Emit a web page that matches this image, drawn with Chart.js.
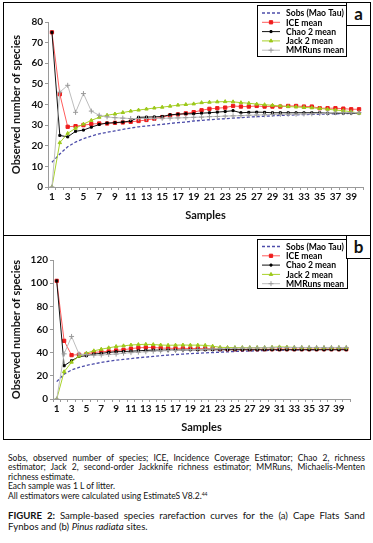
<!DOCTYPE html>
<html>
<head>
<meta charset="utf-8">
<script src="https://cdn.jsdelivr.net/npm/chart.js@4.4.1/dist/chart.umd.min.js"></script>
<style>
body { margin: 0; width: 373px; height: 543px; background: #fff; position: relative; overflow: hidden; font-family: Lato, "Open Sans", sans-serif; color: #111; }
.panel { position: absolute; left: 3px; width: 366px; border: 1px solid #000; }
#panelA { top: 2px; height: 232px; }
#panelB { top: 236px; height: 203px; border-top: none; }
.panel canvas { position: absolute; left: 0; top: 0; }
.tag { position: absolute; width: 23px; height: 22px; border: 1px solid #000; background: #fff; font: bold 17px Lato, sans-serif; text-align: center; line-height: 21px; }
.notes { position: absolute; left: 8px; top: 454px; width: 357px; font-size: 8.5px; line-height: 9.4px; text-align: justify; }
.notes p { margin: 0; }
.notes sup { font-size: 5px; vertical-align: 3px; line-height: 0; }
.fig { position: absolute; left: 8px; top: 511px; width: 357px; font-size: 9.6px; line-height: 10.8px; text-align: justify; }
</style>
</head>
<body>
<div class="panel" id="panelA"><canvas id="chartA" width="366" height="232"></canvas></div>
<div class="panel" id="panelB"><canvas id="chartB" width="366" height="203"></canvas></div>
<div class="tag" style="left:346px; top:2px;">a</div>
<div class="tag" style="left:346px; top:235px;">b</div>
<div class="notes">
<p>Sobs, observed number of species; ICE, Incidence Coverage Estimator; Chao 2, richness estimator; Jack 2, second-order Jackknife richness estimator; MMRuns, Michaelis-Menten richness estimate.</p>
<p>Each sample was 1 L of litter.</p>
<p>All estimators were calculated using EstimateS V8.2.<sup>44</sup></p>
</div>
<div class="fig"><b>FIGURE 2:</b> Sample-based species rarefaction curves for the (a) Cape Flats Sand Fynbos and (b) <i>Pinus radiata</i> sites.</div>
<script>
const samples = ["1","2","3","4","5","6","7","8","9","10","11","12","13","14","15","16","17","18","19","20",
    "21","22","23","24","25","26","27","28","29","30","31","32","33","34","35","36","37","38","39","40"];
const seriesNames = ["Sobs (Mao Tau)", "ICE mean", "Chao 2 mean", "Jack 2 mean", "MMRuns mean"];

// (a) Cape Flats Sand Fynbos
const sobsA = [12, 16, 19.5, 21.8, 23.4, 24.7, 25.8, 26.5, 27.2, 27.9, 28.6, 29.2, 29.6, 30, 30.4, 30.8, 31.2, 31.5, 32, 32.3,
    32.6, 32.9, 33.1, 33.4, 33.6, 33.9, 34.1, 34.3, 34.5, 34.7, 34.8, 35, 35.1, 35.2, 35.3, 35.4, 35.5, 35.6, 35.7, 35.8];
const iceA = [75, 45, 29.2, 29.5, 30, 30.5, 30.8, 30.8, 31.1, 31.3, 31.6, 32, 32.5, 33.1, 33.9, 34.7, 35.2, 35.7, 36.3, 37.2,
    37.9, 38.2, 38.5, 39.3, 39, 39, 39.3, 39, 39, 39, 39.3, 39.3, 39, 39, 38.2, 38.2, 38.2, 38, 37.7, 37.7];
const chaoA = [75, 25, 24.3, 27, 27.6, 29, 30.3, 31, 31.2, 31.5, 32, 33.8, 33.9, 34, 34.2, 35, 35.3, 35.5, 35.5, 35.8,
    36, 36.3, 36.6, 37, 36, 36.2, 36.3, 36.2, 36, 36, 36, 36, 36, 36, 36, 35.8, 35.8, 35.8, 35.8, 35.8];
const jackA = [0, 21.5, 26, 28.5, 30.5, 32.3, 33.8, 34.8, 35.4, 36.1, 36.8, 37.3, 37.8, 38.3, 38.7, 39.2, 39.7, 40, 40.3, 40.9,
    41.1, 41.3, 41.4, 41.3, 40.9, 40.6, 40.2, 39.9, 39.6, 39.3, 39, 38.8, 38.6, 38.4, 38.1, 37.7, 37.3, 37, 36.5, 35.8];
const mmA = [0, 46, 49.3, 36.2, 45.3, 36.8, 34.8, 34, 33.6, 33.4, 33.2, 33.2, 33.2, 33.3, 33.3, 33.4, 33.5, 33.6, 33.8, 33.9,
    34.1, 34.2, 34.4, 34.5, 34.6, 34.8, 34.9, 35, 35.2, 35.2, 35.3, 35.3, 35.4, 35.5, 35.7, 35.8, 36, 36, 36, 36];

// (b) Pinus radiata
const sobsB = [15, 21.5, 25, 27.3, 29, 30.3, 31.6, 32.6, 33.5, 34.2, 34.9, 35.6, 36.2, 36.8, 37.4, 37.9, 38.4, 38.8, 39.2, 39.5,
    39.8, 40.1, 40.4, 40.7, 41, 41.2, 41.4, 41.6, 41.8, 42, 42.2, 42.3, 42.4, 42.5, 42.6, 42.7, 42.8, 42.9, 43, 43];
const iceB = [102, 50.2, 37.9, 38.3, 38.7, 40.2, 40.8, 41.1, 41.9, 42.5, 43.5, 44.2, 44.5, 44.5, 44, 43.8, 43.7, 43.7, 43.6, 43.6,
    43.6, 43.5, 43.1, 43, 43, 43, 43, 43, 43, 43, 43, 43, 43, 43, 43, 43, 43, 43, 43, 43];
const chaoB = [102, 28.7, 33, 36.7, 37.3, 38.8, 39.4, 40.2, 40.8, 41, 41.3, 41.6, 42, 42.2, 42.2, 42.2, 42.3, 42.3, 42.4, 42.4,
    42.5, 42.5, 42.5, 42.5, 42.5, 42.5, 42.5, 42.5, 42.5, 42.5, 42.5, 42.5, 42.5, 42.5, 42.5, 42.5, 42.5, 42.5, 42.5, 42.5];
const jackB = [0, 23.5, 31.8, 37, 39.6, 41.6, 43, 44.2, 45.3, 45.9, 46.6, 47, 47.2, 47, 46.6, 46.4, 46.5, 46.6, 46.5, 46.5,
    46.3, 45.6, 44.6, 44.5, 44.4, 44.4, 44.4, 44.4, 44.4, 44.6, 45, 44.8, 44.5, 44.4, 44.3, 44.3, 44.3, 44.3, 44.3, 44.3];
const mmB = [0, 39, 54, 38.8, 38.2, 37.8, 38, 38.4, 38.8, 39.5, 40, 40.4, 40.8, 41.2, 41.5, 41.8, 42, 42.3, 42.5, 42.8,
    43, 43.2, 43.4, 43.6, 43.8, 43.9, 44, 44.1, 44.2, 44.3, 44.4, 44.4, 44.5, 44.5, 44.5, 44.5, 44.5, 44.5, 44.5, 44.5];

const FONT = "Lato";

function makeDatasets(sobs, ice, chao, jack, mm) {
    return [
        { label: seriesNames[0], data: sobs, borderColor: "#4d4daa", borderDash: [3, 2], borderWidth: 1.3,
          pointRadius: 0, order: 5 },
        { label: seriesNames[1], data: ice, borderColor: "#ff5c5c", borderWidth: 1, pointStyle: "rect",
          pointRadius: 2.3, pointBackgroundColor: "#ee1c1c", pointBorderColor: "#ee1c1c", order: 4 },
        { label: seriesNames[2], data: chao, borderColor: "#111", borderWidth: 1, pointStyle: "rect",
          pointRadius: 1.4, pointBackgroundColor: "#000", pointBorderColor: "#000", order: 3 },
        { label: seriesNames[3], data: jack, borderColor: "#a8d22a", borderWidth: 1, pointStyle: "triangle",
          pointRadius: 2, pointBackgroundColor: "#9cc81a", pointBorderColor: "#9cc81a", order: 2 },
        { label: seriesNames[4], data: mm, borderColor: "#bdbdbd", borderWidth: 1, pointStyle: "cross",
          pointRadius: 2.5, pointBorderColor: "#9a9a9a", pointBorderWidth: 1, order: 1 }
    ];
}

// boxed legend drawn on the canvas, in series order
const boxLegend = {
    id: "boxLegend",
    afterDraw(chart, args, opts) {
        const ctx = chart.ctx;
        ctx.save();
        ctx.fillStyle = "#fff";
        ctx.fillRect(opts.x, opts.y, opts.w, opts.h);
        ctx.strokeStyle = "#000";
        ctx.lineWidth = 1;
        ctx.strokeRect(opts.x + 0.5, opts.y + 0.5, opts.w, opts.h);
        ctx.font = "bold 8.6px " + FONT;
        ctx.textBaseline = "middle";
        chart.data.datasets.forEach((ds, i) => {
            const cy = opts.y + opts.first + i * opts.rowH;
            const x0 = opts.x + 5, x1 = opts.x + 23;
            ctx.strokeStyle = ds.borderColor;
            ctx.lineWidth = ds.borderWidth;
            ctx.setLineDash(ds.borderDash || []);
            ctx.beginPath();
            ctx.moveTo(x0, cy);
            ctx.lineTo(x1, cy);
            ctx.stroke();
            ctx.setLineDash([]);
            if (ds.pointRadius > 0) {
                ctx.fillStyle = ds.pointBackgroundColor || ds.pointBorderColor;
                ctx.strokeStyle = ds.pointBorderColor;
                Chart.helpers.drawPoint(ctx, { pointStyle: ds.pointStyle, radius: ds.pointRadius, rotation: 0,
                    borderWidth: ds.pointBorderWidth || 1 }, (x0 + x1) / 2, cy);
            }
            ctx.fillStyle = "#000";
            ctx.fillText(ds.label, opts.x + 29, cy + 0.5);
        });
        ctx.restore();
    }
};

function makeChart(id, datasets, cfg) {
    return new Chart(document.getElementById(id), {
        type: "line",
        data: { labels: samples, datasets: datasets },
        plugins: [boxLegend],
        options: {
            responsive: false,
            animation: false,
            events: [],
            layout: { padding: cfg.padding },
            elements: { line: { tension: 0 } },
            plugins: {
                legend: { display: false },
                tooltip: { enabled: false },
                boxLegend: cfg.legend
            },
            scales: {
                x: {
                    type: "category",
                    offset: true,
                    grid: { offset: true, drawOnChartArea: false, tickLength: 3, color: "#9a9a9a" },
                    border: { color: "#9a9a9a" },
                    ticks: {
                        autoSkip: false, maxRotation: 0, minRotation: 0, padding: 1, color: "#111",
                        font: { family: FONT, weight: "bold", size: 10 },
                        callback: function (v, i) { return i % 2 === 0 ? this.getLabelForValue(v) : ""; }
                    },
                    title: { display: true, text: "Samples", color: "#111",
                        font: { family: FONT, weight: "bold", size: 11 }, padding: { top: 0, bottom: cfg.xTitlePad } },
                    afterFit: s => { s.height = cfg.xHeight; }
                },
                y: {
                    min: 0, max: cfg.yMax,
                    grid: { drawOnChartArea: false, tickLength: 3, color: "#9a9a9a" },
                    border: { color: "#9a9a9a" },
                    ticks: { stepSize: cfg.yStep, padding: 2, color: "#111",
                        font: { family: FONT, weight: "bold", size: 10 } },
                    title: { display: true, text: "Observed number of species", color: "#111",
                        font: { family: FONT, weight: "bold", size: 11 }, padding: { top: 6, bottom: 0 } },
                    afterFit: s => { s.width = cfg.yWidth; }
                }
            }
        }
    });
}

makeChart("chartA", makeDatasets(sobsA, iceA, chaoA, jackA, mmA), {
    padding: { left: 0, right: 7, top: 19, bottom: 0 },
    yMax: 80, yStep: 10, yWidth: 44, xHeight: 48, xTitlePad: 13,
    legend: { x: 253, y: 2, w: 89, h: 51, first: 8, rowH: 9.3 }
});

makeChart("chartB", makeDatasets(sobsB, iceB, chaoB, jackB, mmB), {
    padding: { left: 0, right: 20, top: 24, bottom: 0 },
    yMax: 120, yStep: 20, yWidth: 49, xHeight: 40, xTitlePad: 5,
    legend: { x: 253, y: 3, w: 90, h: 49, first: 7.5, rowH: 9.3 }
});
</script>
</body>
</html>
